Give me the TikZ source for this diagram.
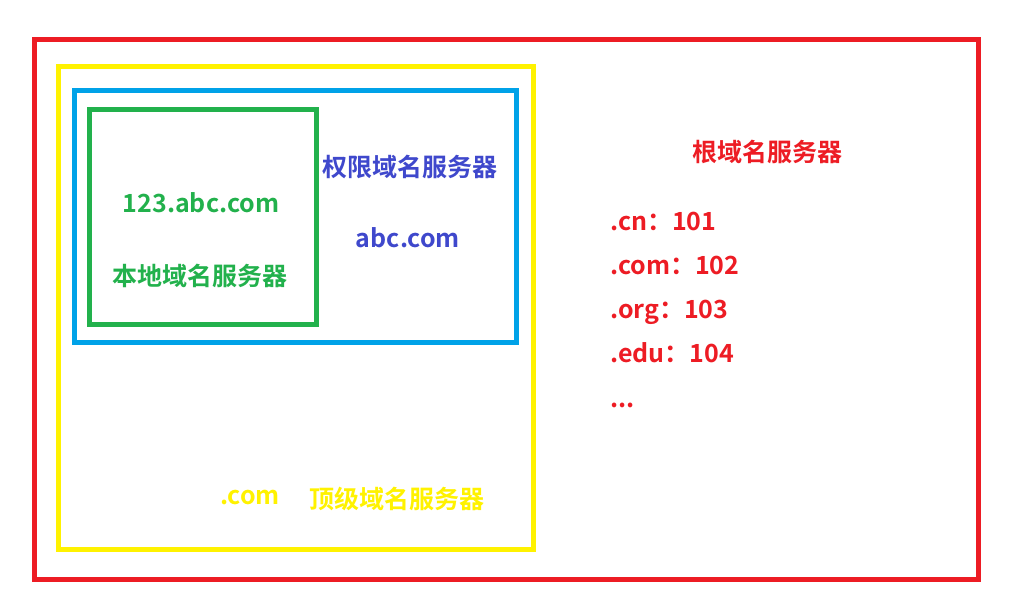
\documentclass[tikz,border=0pt]{standalone}
\usepackage{fontspec}
\setmainfont{Noto Sans CJK SC Bold}
\definecolor{cred}{RGB}{237,28,36}
\definecolor{cyellow}{RGB}{255,242,0}
\definecolor{cblue}{RGB}{0,162,232}
\definecolor{cgreen}{RGB}{34,177,76}
\definecolor{cpurple}{RGB}{63,72,204}
\begin{document}
\begin{tikzpicture}[x=1pt,y=-1pt,
  boxline/.style={line width=5pt},
  lbl/.style={inner sep=0pt,font=\fontsize{25}{29}\selectfont},
  item/.style={lbl,cred,anchor=base west}]
\useasboundingbox (0,0) rectangle (1033,603);
\fill[white] (0,0) rectangle (1033,603);
\draw[boxline,cred] (34,39) rectangle (978,579);
\draw[boxline,cyellow] (58,66) rectangle (533,549);
\draw[boxline,cblue] (74,90) rectangle (516,342);
\draw[boxline,cgreen] (89,109) rectangle (316,324);
\node[lbl,cgreen] (local) at (201,203) {123.abc.com};
\node[lbl,cgreen] (localname) at (200,276) {本地域名服务器};
\node[lbl,cpurple] (auth) at (410,167) {权限域名服务器};
\node[lbl,cpurple] (authdom) at (408,238) {abc.com};
\node[lbl,cred] (root) at (767,152) {根域名服务器};
\node[item] (cn) at (610,230) {.cn：101};
\node[item] (com) at (610,274) {.com：102};
\node[item] (org) at (610,318) {.org：103};
\node[item] (edu) at (610,362) {.edu：104};
\node[item] (more) at (610,407) {...};
\node[lbl,cyellow] (tld) at (250,497) {.com};
\node[lbl,cyellow] (tldname) at (397,499) {顶级域名服务器};
\end{tikzpicture}
\end{document}
